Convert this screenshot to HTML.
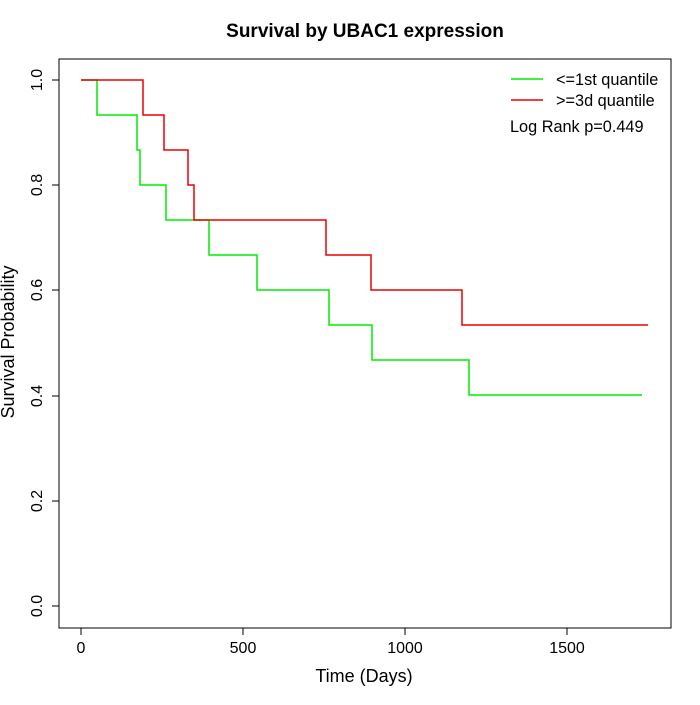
<!DOCTYPE html>
<html><head><style>body{margin:0;background:#fff}</style></head><body>
<svg width="700" height="700" xmlns="http://www.w3.org/2000/svg" font-family="Liberation Sans, DejaVu Sans, sans-serif">
<rect width="700" height="700" fill="#fff"/>
<text x="365" y="37" font-size="19" font-weight="bold" text-anchor="middle">Survival by UBAC1 expression</text>
<rect x="59" y="59" width="612" height="569" fill="none" stroke="#000" stroke-width="1"/>
<g stroke="#000" stroke-width="1">
<line x1="81" y1="628" x2="567" y2="628"/>
<line x1="81" y1="628" x2="81" y2="635"/><line x1="243" y1="628" x2="243" y2="635"/>
<line x1="405" y1="628" x2="405" y2="635"/><line x1="567" y1="628" x2="567" y2="635"/>
<line x1="59" y1="80" x2="59" y2="606"/>
<line x1="52" y1="80" x2="59" y2="80"/><line x1="52" y1="185" x2="59" y2="185"/>
<line x1="52" y1="290" x2="59" y2="290"/><line x1="52" y1="396" x2="59" y2="396"/>
<line x1="52" y1="501" x2="59" y2="501"/><line x1="52" y1="606" x2="59" y2="606"/>
</g>
<g font-size="16" text-anchor="middle">
<text x="81" y="653">0</text><text x="243" y="653">500</text><text x="405" y="653">1000</text><text x="567" y="653">1500</text>
<text x="364" y="682" font-size="18">Time (Days)</text>
</g>
<g font-size="16" text-anchor="middle">
<text transform="translate(42,80) rotate(-90)">1.0</text>
<text transform="translate(42,185) rotate(-90)">0.8</text>
<text transform="translate(42,290) rotate(-90)">0.6</text>
<text transform="translate(42,396) rotate(-90)">0.4</text>
<text transform="translate(42,501) rotate(-90)">0.2</text>
<text transform="translate(42,606) rotate(-90)">0.0</text>
<text transform="translate(14,342) rotate(-90)" font-size="18">Survival Probability</text>
</g>
<polyline fill="none" stroke="#00ee00" stroke-width="1.5" points="81,80 97,80 97,115 137,115 137,150 140,150 140,185 166,185 166,220 209,220 209,255 257,255 257,290 329,290 329,325 372,325 372,360 469,360 469,395 642,395"/>
<polyline fill="none" stroke="#ee0000" stroke-width="1.5" points="81,80 143,80 143,115 164,115 164,150 188,150 188,185 194,185 194,220 326,220 326,255 371,255 371,290 462,290 462,325 648,325"/>
<line x1="511" y1="79" x2="543" y2="79" stroke="#00ee00" stroke-width="1.5"/>
<line x1="511" y1="100" x2="543" y2="100" stroke="#ee0000" stroke-width="1.5"/>
<g font-size="16.3">
<text x="556" y="85">&lt;=1st quantile</text>
<text x="556" y="106">&gt;=3d quantile</text>
<text x="510" y="132">Log Rank p=0.449</text>
</g>
</svg>
</body></html>
